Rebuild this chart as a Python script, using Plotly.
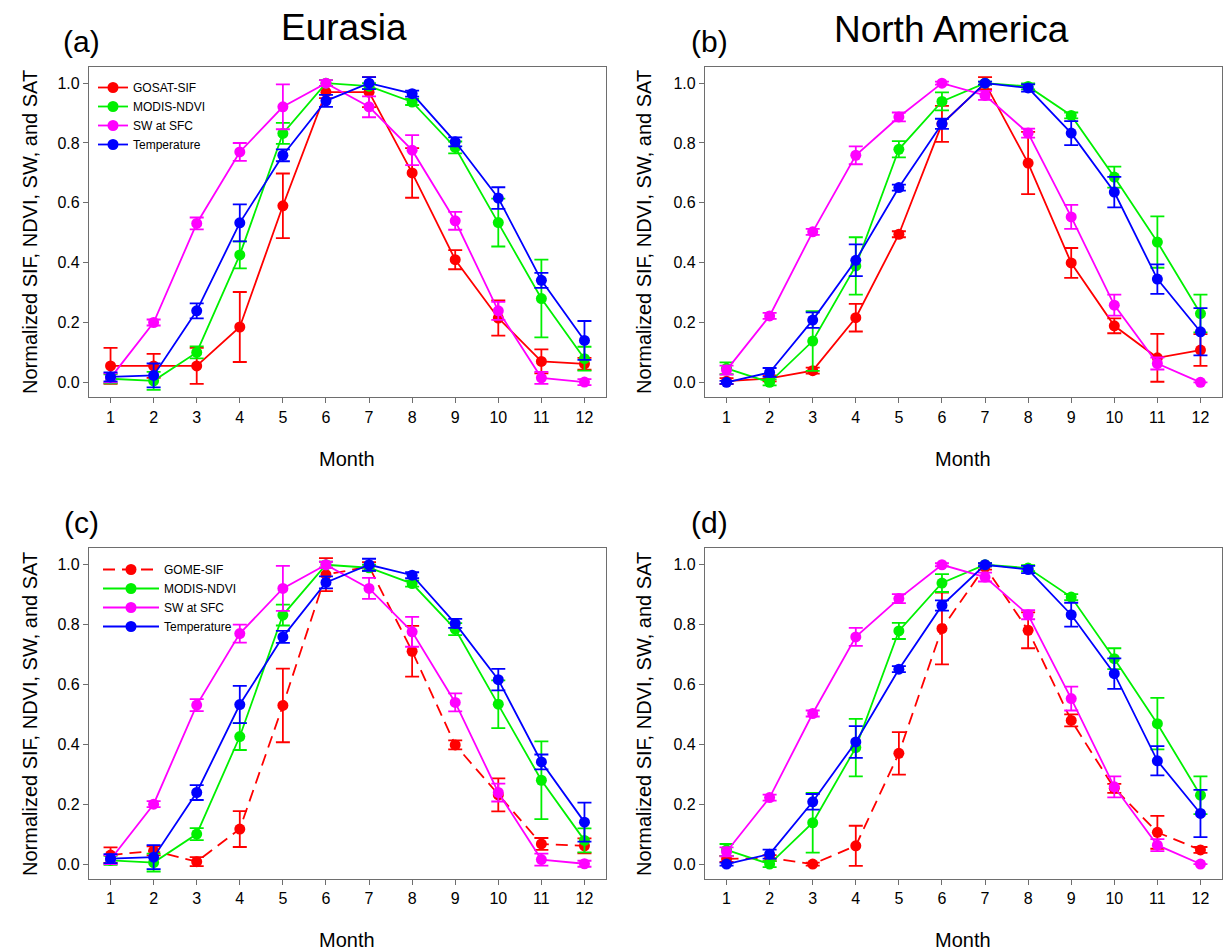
import plotly.graph_objects as go

months = list(range(1, 13))
month_labels = [str(m) for m in months]
y_ticks = [0.0, 0.2, 0.4, 0.6, 0.8, 1.0]
y_tick_labels = ["0.0", "0.2", "0.4", "0.6", "0.8", "1.0"]

# Panel (a) Eurasia, GOSAT
gosat_ea = [0.055, 0.055, 0.055, 0.185, 0.59, 0.97, 0.97, 0.70, 0.41, 0.215, 0.07, 0.062]
gosat_ea_err = [0.06, 0.04, 0.06, 0.117, 0.108, 0.02, 0.05, 0.083, 0.032, 0.059, 0.04, 0.02]
ndvi_ea = [0.012, 0.005, 0.10, 0.426, 0.832, 1.0, 0.99, 0.937, 0.785, 0.534, 0.28, 0.079]
ndvi_ea_err = [0.015, 0.03, 0.02, 0.045, 0.035, 0.01, 0.01, 0.01, 0.02, 0.08, 0.13, 0.04]
sw_ea = [0.015, 0.20, 0.531, 0.77, 0.921, 1.0, 0.921, 0.776, 0.54, 0.239, 0.015, 0.001]
sw_ea_err = [0.015, 0.01, 0.02, 0.03, 0.075, 0.01, 0.035, 0.05, 0.03, 0.03, 0.02, 0.01]
temp_ea = [0.018, 0.023, 0.239, 0.533, 0.759, 0.941, 1.0, 0.965, 0.804, 0.616, 0.341, 0.14]
temp_ea_err = [0.015, 0.04, 0.025, 0.062, 0.02, 0.02, 0.02, 0.01, 0.015, 0.036, 0.025, 0.065]

# Panel (b) North America, GOSAT
gosat_na = [0.004, 0.013, 0.039, 0.216, 0.495, 0.864, 1.0, 0.733, 0.399, 0.189, 0.082, 0.108]
gosat_na_err = [0.01, 0.01, 0.01, 0.046, 0.01, 0.06, 0.02, 0.104, 0.05, 0.025, 0.08, 0.053]
ndvi_na = [0.047, 0.0, 0.138, 0.389, 0.779, 0.939, 1.0, 0.989, 0.892, 0.686, 0.469, 0.23]
ndvi_na_err = [0.02, 0.01, 0.1, 0.096, 0.027, 0.03, 0.005, 0.01, 0.01, 0.035, 0.086, 0.063]
sw_na = [0.041, 0.222, 0.503, 0.759, 0.887, 1.0, 0.959, 0.833, 0.553, 0.258, 0.063, 0.0]
sw_na_err = [0.015, 0.01, 0.01, 0.03, 0.015, 0.005, 0.015, 0.015, 0.04, 0.035, 0.02, 0.0]
temp_na = [0.0, 0.033, 0.208, 0.408, 0.651, 0.864, 1.0, 0.984, 0.833, 0.636, 0.345, 0.169]
temp_na_err = [0.005, 0.015, 0.026, 0.053, 0.01, 0.017, 0.005, 0.012, 0.04, 0.051, 0.049, 0.079]

# Panels (c)/(d) GOME-SIF
gome_ea = [0.03, 0.044, 0.008, 0.117, 0.53, 0.967, 0.994, 0.711, 0.398, 0.231, 0.067, 0.061]
gome_ea_err = [0.026, 0.015, 0.015, 0.06, 0.123, 0.055, 0.015, 0.085, 0.015, 0.055, 0.02, 0.025]
gome_na = [0.017, 0.02, 0.0, 0.061, 0.37, 0.787, 0.994, 0.781, 0.48, 0.253, 0.106, 0.047]
gome_na_err = [0.01, 0.01, 0.005, 0.067, 0.071, 0.12, 0.01, 0.06, 0.02, 0.015, 0.055, 0.01]

RED, GREEN, MAGENTA, BLUE = "#FF0000", "#00F000", "#FF00FF", "#0000FF"
W, H = 1226, 951
FONT = "Liberation Sans, Arial, sans-serif"

fig = go.Figure()

def add(name, y, err, color, axis, legend=None, dash="solid"):
    fig.add_trace(go.Scatter(
        x=months, y=y, name=name, mode="lines+markers",
        line=dict(color=color, width=1.8, dash=dash),
        marker=dict(color=color, size=11, symbol="circle"),
        error_y=dict(type="data", array=err, visible=True, color=color, thickness=1.8, width=7),
        xaxis="x" + axis, yaxis="y" + axis,
        showlegend=legend is not None, legend=legend if legend else "legend",
    ))

panels = [
    ("", "GOSAT-SIF", gosat_ea, gosat_ea_err, ndvi_ea, ndvi_ea_err, sw_ea, sw_ea_err, temp_ea, temp_ea_err, "legend", "solid"),
    ("2", "GOSAT-SIF", gosat_na, gosat_na_err, ndvi_na, ndvi_na_err, sw_na, sw_na_err, temp_na, temp_na_err, None, "solid"),
    ("3", "GOME-SIF", gome_ea, gome_ea_err, ndvi_ea, ndvi_ea_err, sw_ea, sw_ea_err, temp_ea, temp_ea_err, "legend2", "12px,7px"),
    ("4", "GOME-SIF", gome_na, gome_na_err, ndvi_na, ndvi_na_err, sw_na, sw_na_err, temp_na, temp_na_err, None, "12px,7px"),
]
for ax, sifname, sif, sife, nd, nde, sw, swe, tp, tpe, leg, dash in panels:
    add(sifname, sif, sife, RED, ax, leg, dash)
    add("MODIS-NDVI", nd, nde, GREEN, ax, leg)
    add("SW at SFC", sw, swe, MAGENTA, ax, leg)
    add("Temperature", tp, tpe, BLUE, ax, leg)

def px_x(p):
    return p / W

def px_y(p):
    return 1 - p / H

xdoms = [(89, 606), (705, 1222)]
ydoms = [(66.7, 397.3), (548.3, 879)]
axis_common = dict(showline=True, mirror=True, linecolor="#6e6e6e", linewidth=1.2,
                   ticks="outside", ticklen=5, tickcolor="#6e6e6e", tickwidth=1,
                   showgrid=False, zeroline=False,
                   tickfont=dict(family=FONT, size=16, color="black"))
layout_axes = {}
for i, (xd, yd) in enumerate([(xdoms[0], ydoms[0]), (xdoms[1], ydoms[0]), (xdoms[0], ydoms[1]), (xdoms[1], ydoms[1])]):
    s = "" if i == 0 else str(i + 1)
    layout_axes["xaxis" + s] = dict(axis_common, domain=[px_x(xd[0]), px_x(xd[1])], range=[0.5, 12.5],
                                    tickvals=months, ticktext=month_labels, anchor="y" + s)
    layout_axes["yaxis" + s] = dict(axis_common, domain=[px_y(yd[1]), px_y(yd[0])], range=[-0.05, 1.055],
                                    tickvals=y_ticks, ticktext=y_tick_labels, anchor="x" + s)

annotations = []
def ann(text, x, y, size, angle=0):
    annotations.append(dict(text=text, x=px_x(x), y=px_y(y), xref="paper", yref="paper",
                            showarrow=False, xanchor="center", yanchor="middle", textangle=angle,
                            font=dict(family=FONT, size=size, color="black")))

ann("Eurasia", 344, 27, 37)
ann("North America", 951, 29, 37)
ann("(a)", 81, 42, 30)
ann("(b)", 709, 42, 30)
ann("(c)", 81, 522, 30)
ann("(d)", 709, 522, 30)
ylab = "Normalized SIF, NDVI, SW, and SAT"
ann(ylab, 30, 232, 20, -90)
ann(ylab, 644, 232, 20, -90)
ann(ylab, 30, 714, 20, -90)
ann(ylab, 644, 714, 20, -90)
ann("Month", 347, 459, 20)
ann("Month", 963, 459, 20)
ann("Month", 347, 940, 20)
ann("Month", 963, 940, 20)

fig.update_layout(
    width=W, height=H, margin=dict(l=0, r=0, t=0, b=0),
    plot_bgcolor="white", paper_bgcolor="white",
    font=dict(family=FONT, color="black"),
    annotations=annotations,
    legend=dict(x=px_x(93), y=px_y(73), xanchor="left", yanchor="top", bgcolor="rgba(0,0,0,0)",
                font=dict(family=FONT, size=12, color="black"), itemwidth=30, tracegroupgap=0),
    legend2=dict(x=px_x(98), y=px_y(555), xanchor="left", yanchor="top", bgcolor="rgba(0,0,0,0)",
                 font=dict(family=FONT, size=12, color="black"), itemwidth=56, tracegroupgap=0),
    **layout_axes,
)

fig.write_html("out.html")
